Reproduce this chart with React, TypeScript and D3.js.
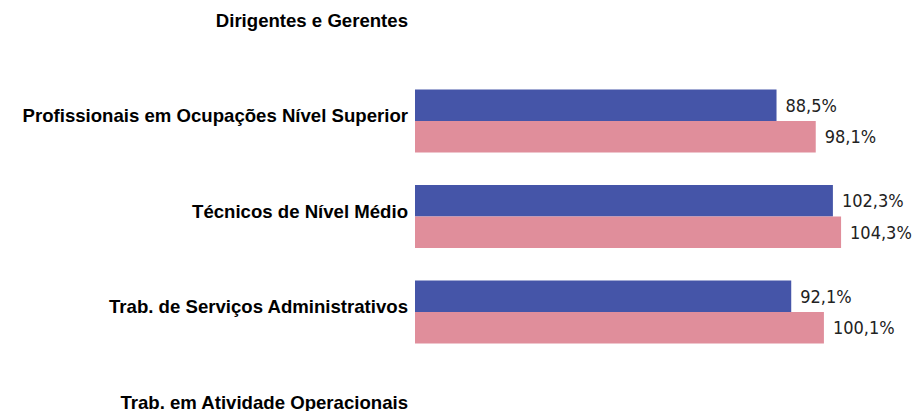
import * as d3 from "d3";

const width = 916;
const height = 411;

// categories, top to bottom
const categories = [
  "Dirigentes e Gerentes",
  "Profissionais em Ocupações Nível Superior",
  "Técnicos de Nível Médio",
  "Trab. de Serviços Administrativos",
  "Trab. em Atividade Operacionais",
];
const seriesNames = ["blue", "pink"];
const blueValues = [null, 88.5, 102.3, 92.1, null];
const pinkValues = [null, 98.1, 104.3, 100.1, null];
const colors = ["#4555a8", "#e08e9b"];

const ptBR = d3.formatLocale({ decimal: ",", thousands: ".", grouping: [3], currency: ["R$", ""] });
const fmt = (v: number) => ptBR.format(".1f")(v) + "%";

const App = () => {
  const y = d3.scalePoint<string>().domain(categories).range([25.5, 407.5]);
  const sub = d3.scaleBand<string>().domain(seriesNames).range([-31.5, 31.5]);
  const x = d3.scaleLinear().domain([0, 100]).range([415, 823.5]);

  const series = [blueValues, pinkValues];

  return (
    <svg width={width} height={height} style={{ position: "absolute", left: 0, top: 0 }}>
      <rect width={width} height={height} fill="#ffffff" />
      {categories.map((c) => (
        <text
          key={c}
          x={408}
          y={(y(c) ?? 0) + 1}
          textAnchor="end"
          fontFamily="'Liberation Sans', Arial, sans-serif"
          fontWeight="bold"
          fontSize={18.6}
          fill="#000"
        >
          {c}
        </text>
      ))}
      {series.map((vals, si) =>
        vals.map((v, i) => {
          if (v == null) return null;
          const cy = (y(categories[i]) ?? 0) + (sub(seriesNames[si]) ?? 0);
          const bw = sub.bandwidth();
          return (
            <g key={`${si}-${i}`}>
              <rect x={x(0)} y={cy} width={x(v) - x(0)} height={bw} fill={colors[si]} />
              <text
                x={x(v) + 9}
                y={cy + bw / 2}
                dy="0.36em"
                fontFamily="'DejaVu Sans Condensed', 'DejaVu Sans', sans-serif"
                fontSize={18}
                fill="#222"
              >
                {fmt(v)}
              </text>
            </g>
          );
        })
      )}
    </svg>
  );
};

export default App;
